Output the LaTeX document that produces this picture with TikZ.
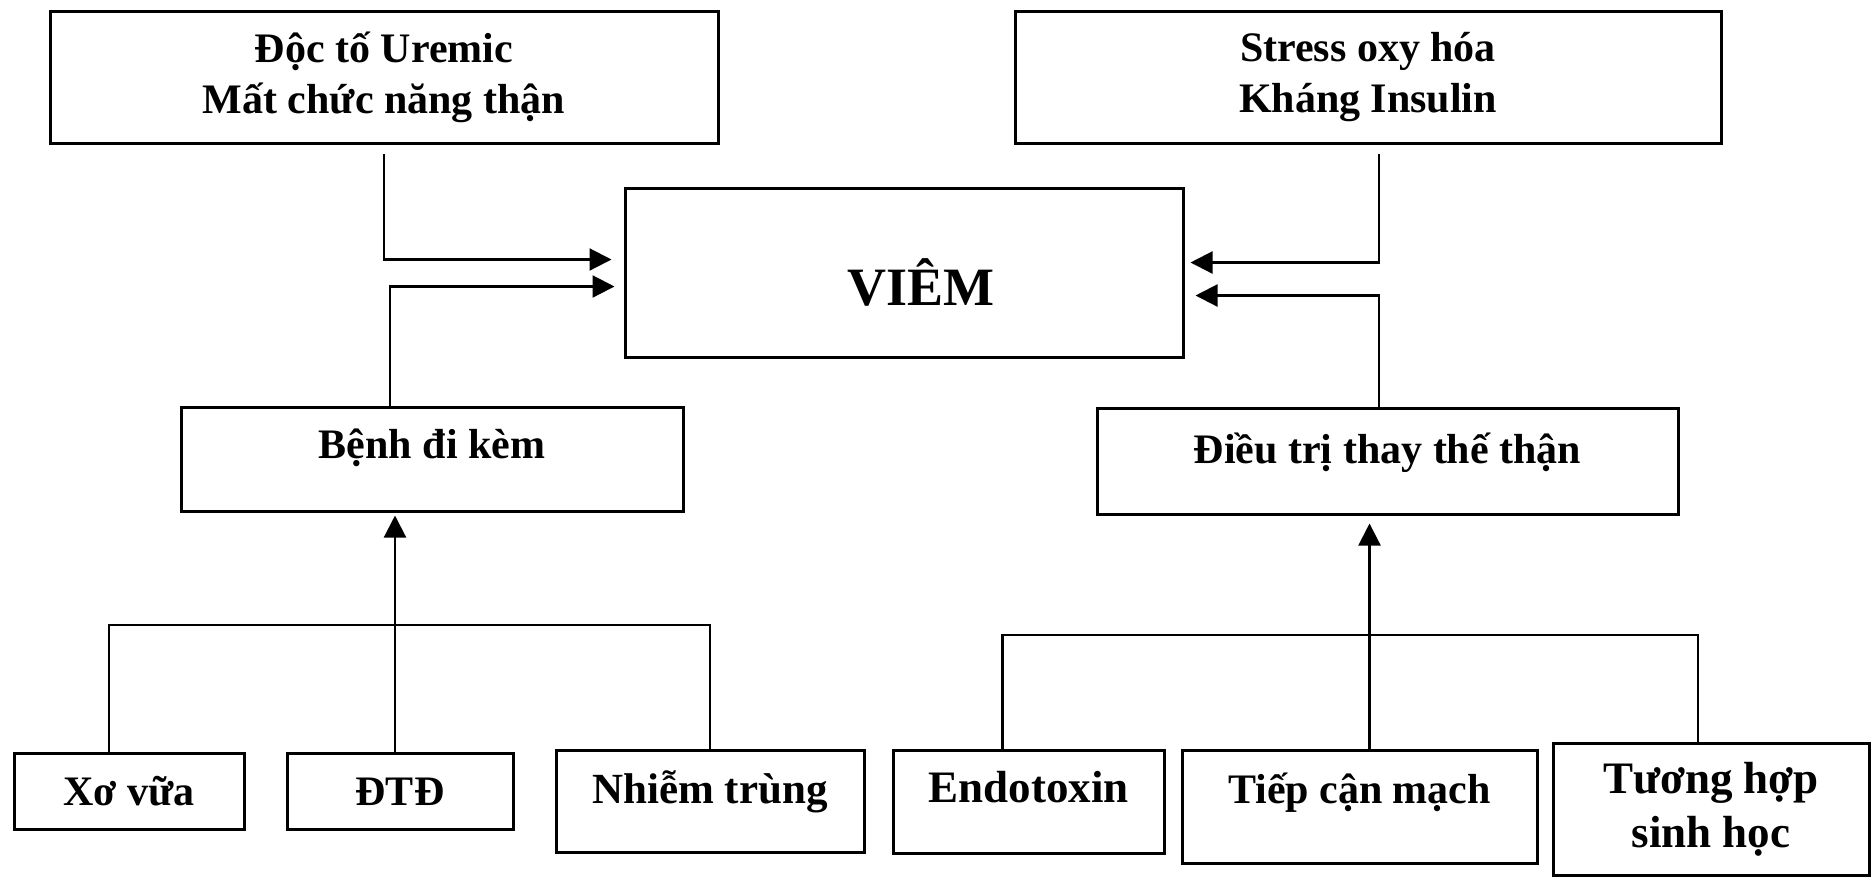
\documentclass[tikz,border=0pt]{standalone}
\usepackage{fontspec}
\setmainfont{Liberation Serif}
\usetikzlibrary{calc,positioning,arrows.meta}

\begin{document}
\begin{tikzpicture}[
      x=0.5pt, y=-0.5pt,
      box/.style={
        draw, line width=1.5pt, align=center, inner sep=0pt,
        font=\fontsize{21}{25.5}\selectfont\bfseries
      },
      flat/.style={text height=14pt, text depth=0pt},
      link/.style={-{Triangle[length=11pt,width=11pt]}, line width=1.1pt},
      wire/.style={line width=1.2pt}
    ]
      \useasboundingbox (0,0) rectangle (1871,880);
      \node[box, minimum width=334pt, minimum height=66pt] (doc) at (384,77)
        {Độc tố Uremic\\Mất chức năng thận};
      \node[box, minimum width=353pt, minimum height=66pt] (stress) at (1368,77)
        {Stress oxy hóa\\Kháng Insulin};
      \node[box, minimum width=279pt, minimum height=84.5pt, text height=33pt, text depth=0pt,
        font=\fontsize{27}{30}\selectfont\bfseries] (viem) at (904,272.5) {\hspace*{17pt}VIÊM};
      \node[box, minimum width=251pt, minimum height=52pt, text height=6.5pt, text depth=7.5pt]
        (benh) at (432,459) {Bệnh đi kèm};
      \node[box, minimum width=290.5pt, minimum height=53pt, text height=8pt, text depth=6pt]
        (dieu) at (1387.5,461) {Điều trị thay thế thận};
      \node[box, flat, minimum width=115pt, minimum height=38pt] (xo) at (129,791) {Xơ vữa};
      \node[box, flat, minimum width=113pt, minimum height=38pt] (dtd) at (400,791) {ĐTĐ};
      \node[box, minimum width=154pt, minimum height=51pt, text height=8.2pt, text depth=6pt,
        font=\fontsize{21.5}{25.5}\selectfont\bfseries] (nhiem) at (710,801) {Nhiễm trùng};
      \node[box, minimum width=135.5pt, minimum height=51.5pt, text height=7.9pt, text depth=7pt,
        font=\fontsize{22.5}{27}\selectfont\bfseries] (endo) at (1028.5,801.5) {Endotoxin};
      \node[box, minimum width=177.5pt, minimum height=56.5pt, text height=5.25pt, text depth=8.75pt]
        (tiep) at (1359.5,806.5) {Tiếp cận mạch};
      \node[box, minimum width=158pt, minimum height=66pt,
        font=\fontsize{22.5}{27}\selectfont\bfseries] (tuong) at (1711,809)
        {Tương hợp\\sinh học};
      \coordinate (lbar) at (0,625);
      \coordinate (rbar) at (0,635);
      \draw[link, shorten <=4.5pt, shorten >=6pt] (doc.south) |- ($(viem.west)+(0,-13)$);
      \draw[link, shorten >=4.5pt] ($(benh.north)+(-42,0)$) |- ($(viem.west)+(0,14)$);
      \draw[link, shorten <=4.5pt, shorten >=3pt] ($(stress.south)+(11,0)$) |- ($(viem.east)+(0,-10)$);
      \draw[link, shorten >=5.5pt] ($(dieu.north)+(-8.5,0)$) |- ($(viem.east)+(0,23)$);
      \draw[wire] ($(xo.north)+(-20,0)$) |- (nhiem.north |- lbar) -- (nhiem.north);
      \draw[link, shorten >=1.5pt] ($(dtd.north)+(-5,0)$) -- ($(dtd.north |- benh.south)+(-5,0)$);
      \draw[wire] ($(endo.north)+(-26,0)$) |- ($(tuong.north |- rbar)+(-13,0)$) -- ($(tuong.north)+(-13,0)$);
      \draw[link, shorten >=4pt] ($(tiep.north)+(10,0)$) -- ($(tiep.north |- dieu.south)+(10,0)$);
    \end{tikzpicture}
\end{document}
